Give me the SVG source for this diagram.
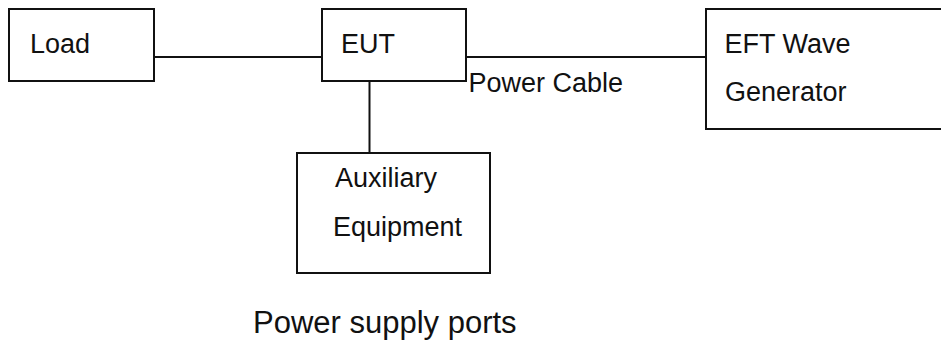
<svg xmlns="http://www.w3.org/2000/svg" width="941" height="340" viewBox="0 0 941 340">
<style>
.box{fill:#fff;stroke:#111;stroke-width:2}
.ln{fill:none;stroke:#111;stroke-width:2}
text{font-family:"Liberation Sans",Arial,sans-serif;font-size:27px;fill:#111}
.big{font-size:31px}
</style>
<rect width="941" height="340" fill="#fff"/>
<g id="connectors">
<line class="ln" x1="154" y1="57" x2="322" y2="57"/>
<line class="ln" x1="466" y1="57" x2="706" y2="57"/>
<line class="ln" x1="369.5" y1="81" x2="369.5" y2="153"/>
</g>
<g id="load">
<rect class="box" x="9" y="9" width="145" height="72"/>
<text x="30" y="53">Load</text>
</g>
<g id="eut">
<rect class="box" x="322" y="9" width="144" height="72"/>
<text x="341" y="53">EUT</text>
</g>
<g id="eft">
<rect class="box" x="706" y="9" width="245" height="120"/>
<text x="724.5" y="53">EFT Wave</text>
<text x="725" y="101">Generator</text>
</g>
<g id="aux">
<rect class="box" x="297" y="153" width="193" height="120"/>
<text x="335" y="187">Auxiliary</text>
<text x="333" y="236">Equipment</text>
</g>
<g id="labels">
<text x="468.5" y="92">Power Cable</text>
<text class="big" x="253" y="333">Power supply ports</text>
</g>
</svg>
